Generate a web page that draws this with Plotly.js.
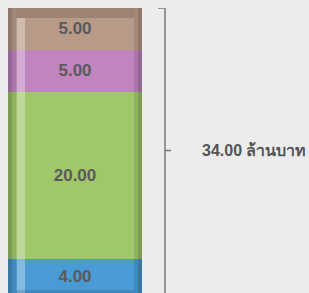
<!DOCTYPE html>
<html>
<head>
<meta charset="utf-8">
<script src="https://cdn.plot.ly/plotly-3.0.1.min.js"></script>
<style>
html,body{margin:0;padding:0;background:#ececec;}
#chart{width:309px;height:293px;}
</style>
</head>
<body>
<div id="chart"></div>
<script>
// Data
const segmentNames = ["ส่วนที่ 1", "ส่วนที่ 2", "ส่วนที่ 3", "ส่วนที่ 4"];
const segmentValues = [4, 20, 5, 5];
const segmentColors = ["#4a9ad5", "#a0c86a", "#c084bf", "#b89a88"];
const unitLabel = "ล้านบาท";

const total = segmentValues.reduce((a, b) => a + b, 0);

// Geometry (pixels)
const W = 309, H = 293;
const mLeft = 8, mTop = 8;
const barPx = 134;
const plotW = W - mLeft;
const xMax = plotW / barPx;
const px = p => (p - mLeft) / barPx; // pixel -> x data units
const plotH = H - mTop;
const yPerPx = total / plotH;

const traces = segmentValues.map((v, i) => ({
  type: "bar",
  x: [0.5],
  y: [v],
  width: 1,
  name: segmentNames[i],
  marker: { color: segmentColors[i], line: { width: 0 } },
  text: [v.toFixed(2)],
  textposition: "inside",
  insidetextanchor: "middle",
  textfont: { family: "Liberation Sans, Arial, sans-serif", size: 17, color: "#5a5a5a", weight: "bold" },
  hoverinfo: "none",
  showlegend: false
}));

const shapes = [];
// bar shading (decoration)
const edge = 8 / barPx;
shapes.push({ type: "rect", xref: "x", yref: "y", x0: 0, x1: edge / 2, y0: 0, y1: total, fillcolor: "rgba(0,0,0,0.22)", line: { width: 0 }, layer: "above" });
shapes.push({ type: "rect", xref: "x", yref: "y", x0: edge / 2, x1: edge, y0: 0, y1: total, fillcolor: "rgba(0,0,0,0.11)", line: { width: 0 }, layer: "above" });
shapes.push({ type: "rect", xref: "x", yref: "y", x0: 1 - edge / 2, x1: 1, y0: 0, y1: total, fillcolor: "rgba(0,0,0,0.22)", line: { width: 0 }, layer: "above" });
shapes.push({ type: "rect", xref: "x", yref: "y", x0: 1 - edge, x1: 1 - edge / 2, y0: 0, y1: total, fillcolor: "rgba(0,0,0,0.11)", line: { width: 0 }, layer: "above" });
shapes.push({ type: "rect", xref: "x", yref: "y", x0: edge, x1: 1 - edge, y0: total - 10 * yPerPx, y1: total, fillcolor: "rgba(0,0,0,0.15)", line: { width: 0 }, layer: "above" });
shapes.push({ type: "rect", xref: "x", yref: "y", x0: px(17), x1: px(25), y0: 0, y1: total - 10 * yPerPx, fillcolor: "rgba(255,255,255,0.32)", line: { width: 0 }, layer: "above" });
shapes.push({ type: "rect", xref: "x", yref: "y", x0: edge, x1: 1 - edge, y0: 0, y1: 3 * yPerPx, fillcolor: "rgba(0,0,0,0.12)", line: { width: 0 }, layer: "above" });

// bracket
const bx = px(165);
const bc = "#7a7a7a";
shapes.push({ type: "line", xref: "x", yref: "y", x0: bx, x1: bx, y0: 0, y1: total, line: { color: bc, width: 1.5 } });
shapes.push({ type: "line", xref: "x", yref: "y", x0: px(158), x1: bx, y0: total, y1: total, line: { color: bc, width: 1.5 } });
shapes.push({ type: "line", xref: "x", yref: "y", x0: bx, x1: px(171), y0: total / 2, y1: total / 2, line: { color: bc, width: 1.5 } });

const layout = {
  width: W, height: H,
  margin: { l: mLeft, r: 0, t: mTop, b: 0, pad: 0 },
  paper_bgcolor: "#ececec",
  plot_bgcolor: "rgba(0,0,0,0)",
  barmode: "stack",
  bargap: 0,
  xaxis: { range: [0, xMax], visible: false, fixedrange: true },
  yaxis: { range: [0, total], visible: false, fixedrange: true },
  shapes: shapes,
  annotations: [{
    xref: "x", yref: "y", x: px(200), y: total / 2,
    xanchor: "left", yanchor: "middle",
    text: total.toFixed(2) + " " + unitLabel,
    showarrow: false,
    font: { family: "Liberation Sans, Arial, sans-serif", size: 16, color: "#555555", weight: "bold" }
  }],
  uniformtext: { mode: false }
};

Plotly.newPlot("chart", traces, layout, { displayModeBar: false, staticPlot: true });
</script>
</body>
</html>
